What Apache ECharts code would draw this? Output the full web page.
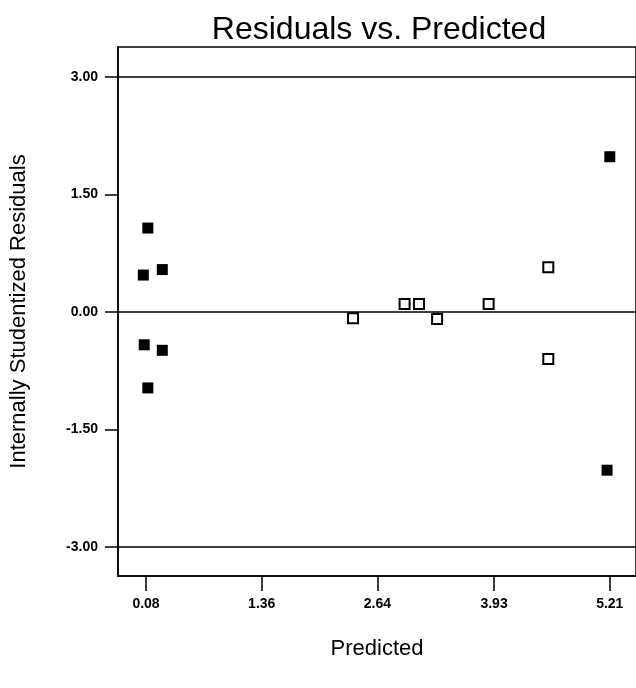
<!DOCTYPE html>
<html>
<head>
<meta charset="utf-8">
<title>Residuals vs. Predicted</title>
<script src="https://cdn.jsdelivr.net/npm/echarts@6/dist/echarts.min.js"></script>
<style>
  html, body { margin: 0; padding: 0; background: #fff; }
  #main { width: 636px; height: 688px; }
</style>
</head>
<body>
<div id="main"></div>
<script>
// 刻度
var xTicks = [0.08, 1.36, 2.64, 3.93, 5.21];
var yTicks = [-3, -1.5, 0, 1.5, 3];
var refLines = [3, 0, -3]; // 横向参考线

// 实心方块
var filledX = [0.10, 0.05, 0.26, 0.06, 0.26, 0.10, 5.21, 5.18];
var filledY = [1.07, 0.47, 0.54, -0.42, -0.49, -0.97, 1.98, -2.02];

// 空心方块
var openX = [2.37, 2.94, 3.10, 3.30, 3.87, 4.53, 4.53];
var openY = [-0.08, 0.10, 0.10, -0.09, 0.10, 0.57, -0.60];

function pairs(xs, ys) {
    var out = [];
    for (var i = 0; i < xs.length; i++) out.push([xs[i], ys[i]]);
    return out;
}

var FONT = 'Liberation Sans, Arial, sans-serif';
var myChart = echarts.init(document.getElementById('main'));

var option = {
    animation: false,
    backgroundColor: '#fff',
    title: {
        text: 'Residuals vs. Predicted',
        left: 374,
        top: 9,
        textAlign: 'center',
        textStyle: { fontFamily: FONT, fontSize: 32, fontWeight: 'normal', color: '#000' }
    },
    grid: {
        left: 118,
        top: 47,
        right: -2,
        bottom: 112,
        show: true,
        borderColor: '#000',
        borderWidth: 1.5
    },
    xAxis: {
        type: 'value',
        min: -0.23,
        max: 5.50,
        name: 'Predicted',
        nameLocation: 'middle',
        nameGap: 62,
        nameTextStyle: { fontFamily: FONT, fontSize: 22, color: '#000' },
        axisLine: { show: true, onZero: false, lineStyle: { color: '#000', width: 1.5 } },
        axisTick: {
            show: true,
            length: 15,
            customValues: xTicks,
            lineStyle: { color: '#000', width: 1.5 }
        },
        axisLabel: {
            customValues: xTicks,
            margin: 21,
            fontFamily: FONT,
            fontSize: 14,
            fontWeight: 'bold',
            color: '#000',
            formatter: function (v) { return v.toFixed(2); }
        },
        splitLine: { show: false }
    },
    yAxis: {
        type: 'value',
        min: -3.37,
        max: 3.38,
        name: 'Internally Studentized Residuals',
        nameLocation: 'middle',
        nameGap: 88,
        nameTextStyle: { fontFamily: FONT, fontSize: 22, color: '#000' },
        axisLine: { show: true, onZero: false, lineStyle: { color: '#000', width: 1.5 } },
        axisTick: {
            show: true,
            length: 13,
            customValues: yTicks,
            lineStyle: { color: '#000', width: 1.5 }
        },
        axisLabel: {
            customValues: yTicks,
            margin: 20,
            fontFamily: FONT,
            fontSize: 14,
            fontWeight: 'bold',
            color: '#000',
            formatter: function (v) { return v.toFixed(2); }
        },
        splitLine: { show: false }
    },
    series: [{
        name: 'open',
        type: 'scatter',
        symbol: 'rect',
        symbolSize: 10,
        itemStyle: { color: '#fff', borderColor: '#000', borderWidth: 2, opacity: 1 },
        data: pairs(openX, openY),
        markLine: {
            silent: true,
            symbol: 'none',
            label: { show: false },
            lineStyle: { color: '#000', width: 1.5, type: 'solid' },
            data: refLines.map(function (v) { return { yAxis: v }; })
        },
        z: 3
    }, {
        name: 'filled',
        type: 'scatter',
        symbol: 'rect',
        symbolSize: 11,
        itemStyle: { color: '#000', opacity: 1 },
        data: pairs(filledX, filledY),
        z: 4
    }]
};

myChart.setOption(option);
</script>
</body>
</html>
